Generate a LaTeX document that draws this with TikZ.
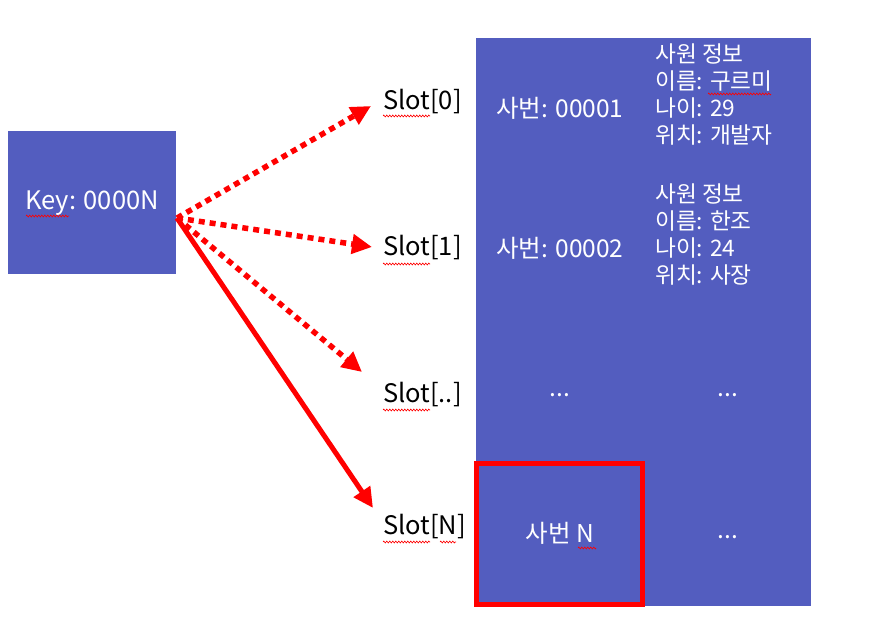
\documentclass[tikz,border=0pt]{standalone}
\usepackage{fontspec}
\setmainfont{Noto Sans CJK KR}
\usetikzlibrary{arrows.meta,decorations.pathmorphing,calc}
\definecolor{boxblue}{RGB}{83,93,191}
\definecolor{arrred}{RGB}{255,0,0}
\tikzset{
  txt/.style={font=\fontsize{25.5}{27}\selectfont, inner sep=0pt},
  wtxt/.style={txt, text=white},
  rtxt/.style={wtxt, font=\fontsize{24.5}{27}\selectfont},
  slotlbl/.style={txt, text=black, anchor=west},
  info/.style={wtxt, anchor=west, align=left, font=\fontsize{22.7}{27}\selectfont},
  dotarrow/.style={draw=arrred, line width=5.5pt, dash pattern=on 6pt off 5pt, -{Triangle[length=20pt,width=19pt]}},
  solidarrow/.style={draw=arrred, line width=5pt, -{Triangle[length=20pt,width=19pt]}},
  squig/.style={draw=arrred, line width=0.6pt, decorate, decoration={zigzag, amplitude=1pt, segment length=3pt}},
}
\begin{document}
\begin{tikzpicture}[x=1pt,y=-1pt]
\useasboundingbox (0,0) rectangle (874,631);
% boxes
\fill[boxblue] (476,38) rectangle (811,606);
\node[fill=boxblue, minimum width=168pt, minimum height=143pt, inner sep=0pt, anchor=north west] (key) at (8,131) {};
\node[wtxt] (keytxt) at (92,203) {Key: 0000N};
\draw[arrred, line width=5pt] (476.5,463.5) rectangle (642,604.5);
% slot labels
\node[slotlbl] (s0) at (383,102) {Slot[0]};
\node[slotlbl] (s1) at (383,248) {Slot[1]};
\node[slotlbl] (s2) at (383,395) {Slot[..]};
\node[slotlbl] (sN) at (383,527) {Slot[N]};
% records
\node[rtxt] (r1) at (560,108) {사번: 00001};
\node[rtxt] (r2) at (560,248) {사번: 00002};
\node[rtxt] (r3) at (560,395) {...};
\node[rtxt] (rN) at (560,533) {사번 N};
\node[info] (i1) at (655,94) {사원 정보\\이름: 구르미\\나이: 29\\위치: 개발자};
\node[info] (i2) at (655,234) {사원 정보\\이름: 한조\\나이: 24\\위치: 사장};
\node[rtxt] (i3) at (728,395) {...};
\node[rtxt] (iN) at (728,537) {...};
% arrows
\coordinate (kp) at (177,218);
\coordinate (t0) at (371,106);
\coordinate (t1) at (372,247);
\coordinate (t2) at (362,372);
\coordinate (tN) at (373,508);
\draw[dotarrow] (kp) -- (t0);
\draw[dotarrow] (kp) -- (t1);
\draw[dotarrow] (kp) -- (t2);
\draw[solidarrow] (kp) -- (tN);
% spell-check squiggles
\draw[squig] (26,216) -- (69,216);
\draw[squig] (383,116) -- (430,116);
\draw[squig] (383,264) -- (430,264);
\draw[squig] (383,410) -- (430,410);
\draw[squig] (383,542) -- (430,542);
\draw[squig] (440,542) -- (456,542);
\draw[squig] (708,94) -- (771,94);
\draw[squig] (578,548) -- (596,548);
\end{tikzpicture}
\end{document}
